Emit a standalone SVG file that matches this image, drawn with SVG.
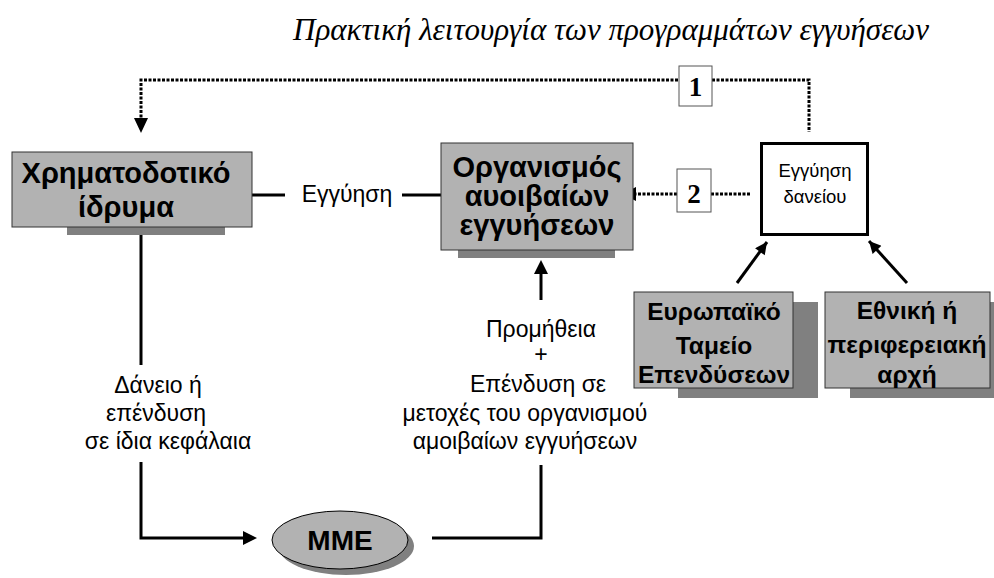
<svg xmlns="http://www.w3.org/2000/svg" width="994" height="578" viewBox="0 0 994 578">
<defs>
<style>
.box{fill:#b2b2b2;stroke:#333;stroke-width:1}
.shadow{fill:#808080}
.bt{font-family:"Liberation Sans",Arial,sans-serif;font-weight:bold;fill:#000;text-anchor:middle}
.t{font-family:"Liberation Sans",Arial,sans-serif;fill:#000;text-anchor:middle;font-size:23px}
.num{font-family:"Liberation Serif","Times New Roman",serif;font-weight:bold;font-size:27px;text-anchor:middle}
.solid{fill:none;stroke:#000;stroke-width:3}
.dot{fill:none;stroke:#000;stroke-width:3;stroke-dasharray:3 1.5}
</style>
<marker id="ah" viewBox="0 0 10 10" refX="10" refY="5" markerWidth="4.5" markerHeight="4" orient="auto" markerUnits="strokeWidth">
<path d="M0,0 L10,5 L0,10 z" fill="#000"/>
</marker>
</defs>
<rect width="994" height="578" fill="#fff"/>
<text x="611" y="40" font-family="'Liberation Serif','Times New Roman',serif" font-style="italic" font-size="31" text-anchor="middle">Πρακτική λειτουργία των προγραμμάτων εγγυήσεων</text>

<g id="connectors">
<polyline class="dot" points="678,80 141,80 141,118"/>
<polygon points="134,118 148,118 141,133" fill="#000"/>
<polyline class="dot" points="712,80 809,80 809,132"/>
<line class="dot" x1="677" y1="194" x2="636" y2="194"/>
<polygon points="636,187 636,201 622,194" fill="#000"/>
<line class="dot" x1="711" y1="194" x2="750" y2="194"/>
<line class="solid" x1="285" y1="195" x2="244" y2="195"/>
<polygon points="245,188 245,202 231,195" fill="#000"/>
<line class="solid" x1="402" y1="195" x2="441" y2="195"/>
<line class="solid" x1="737" y1="283" x2="767" y2="242" marker-end="url(#ah)"/>
<line class="solid" x1="907" y1="283" x2="869" y2="241" marker-end="url(#ah)"/>
<line class="solid" x1="541" y1="300" x2="541" y2="272"/>
<polygon points="534,274 548,274 541,260" fill="#000"/>
<polyline class="solid" points="141,235 141,365"/>
<polyline class="solid" points="141,462 141,538 244,538"/>
<polygon points="243,531 243,545 257,538" fill="#000"/>
<polyline class="solid" points="432,538 541,538 541,465"/>
</g>

<g id="label1">
<rect x="679" y="66" width="33" height="40" fill="#fff" stroke="#555" stroke-width="1"/>
<text class="num" x="695.5" y="96">1</text>
</g>
<g id="label2">
<rect x="677" y="169" width="34" height="43" fill="#fff" stroke="#555" stroke-width="1"/>
<text class="num" x="694" y="203">2</text>
</g>

<g id="xrimatodotiko">
<rect class="shadow" x="67" y="222" width="158" height="13"/>
<rect class="box" x="12" y="152" width="240" height="75"/>
<text class="bt" font-size="29" x="126" y="183">Χρηματοδοτικό</text>
<text class="bt" font-size="29" x="126" y="217">ίδρυμα</text>
</g>

<text class="t" x="347" y="202">Εγγύηση</text>

<g id="organismos">
<rect class="shadow" x="458" y="245" width="157" height="13"/>
<rect class="box" x="441" y="143" width="192" height="107"/>
<text class="bt" font-size="29" x="537" y="177">Οργανισμός</text>
<text class="bt" font-size="29" x="537" y="206">αυοιβαίων</text>
<text class="bt" font-size="29" x="537" y="235">εγγυήσεων</text>
</g>

<g id="eggyisi-daneiou">
<rect x="761.5" y="143.5" width="106" height="91" fill="#fff" stroke="#000" stroke-width="3"/>
<text class="t" style="font-size:18.5px" x="815" y="177">Εγγύηση</text>
<text class="t" style="font-size:18.5px" x="815" y="203">δανείου</text>
</g>

<g id="eurwpaiko">
<rect class="shadow" x="678" y="302" width="140" height="96"/>
<rect class="box" x="634" y="292" width="159" height="96"/>
<text class="bt" font-size="24.5" x="714" y="320">Ευρωπαϊκό</text>
<text class="bt" font-size="24.5" x="714" y="354">Ταμείο</text>
<text class="bt" font-size="24.5" x="714" y="383">Επενδύσεων</text>
</g>

<g id="ethniki">
<rect class="shadow" x="850" y="302" width="144" height="96"/>
<rect class="box" x="825" y="292" width="165" height="96"/>
<text class="bt" font-size="24.5" x="907" y="319">Εθνική ή</text>
<text class="bt" font-size="24.5" x="907" y="353">περιφερειακή</text>
<text class="bt" font-size="24.5" x="907" y="383">αρχή</text>
</g>

<g id="commission-label">
<text class="t" x="541" y="337">Προμήθεια</text>
<text class="t" x="541" y="362">+</text>
<text class="t" x="538" y="392">Επένδυση σε</text>
<text class="t" x="525" y="421">μετοχές του οργανισμού</text>
<text class="t" x="525" y="449">αμοιβαίων εγγυήσεων</text>
</g>

<g id="loan-label">
<text class="t" x="158" y="393">Δάνειο ή</text>
<text class="t" x="156" y="421">επένδυση</text>
<text class="t" x="168" y="449">σε ίδια κεφάλαια</text>
</g>

<g id="mme">
<ellipse cx="346" cy="546" rx="68" ry="29" fill="#808080"/>
<ellipse cx="340" cy="540" rx="68" ry="29" fill="#b2b2b2" stroke="#000" stroke-width="1"/>
<text class="bt" font-size="28" x="340" y="550">MME</text>
</g>
</svg>
